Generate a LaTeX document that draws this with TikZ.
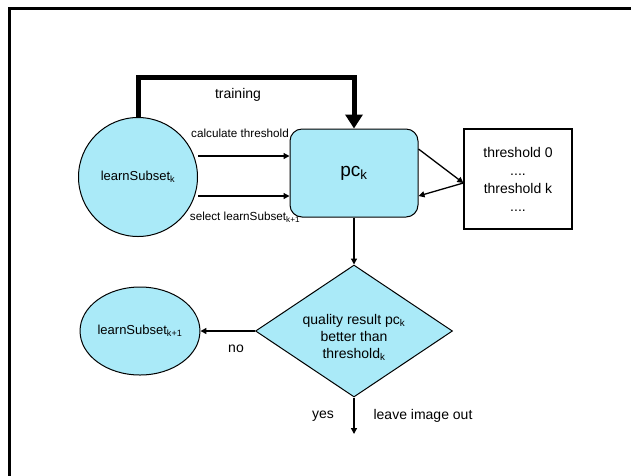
\documentclass[tikz,border=0pt]{standalone}
\usepackage{fontspec}
\setmainfont{Liberation Sans}
\usetikzlibrary{shapes.geometric,arrows.meta}
\definecolor{boxcyan}{RGB}{170,234,248}
\tikzset{
  flowfill/.style={draw=black,line width=1pt,fill=boxcyan},
  arr/.style={line width=1.3pt,-{Triangle[width=6pt,length=6pt]}},
  thick arr/.style={line width=5pt,-{Triangle[width=17pt,length=14pt]}},
  txt/.style={font=\fontsize{14}{17}\selectfont,inner sep=0pt},
  small txt/.style={font=\fontsize{11.7}{14}\selectfont,inner sep=0pt},
}
\begin{document}
\begin{tikzpicture}[x=1pt,y=-1pt]
\useasboundingbox (0,0) rectangle (631,475);
% partial outer frame
\draw[line width=2.7pt] (633,8.7) -- (9.7,8.7) -- (9.7,478);

% nodes
\node[flowfill,circle,minimum size=119pt,inner sep=0pt,
      font=\fontsize{13}{15}\selectfont] (ks) at (138,177) {learnSubset\textsubscript{k}};
\node[flowfill,rectangle,rounded corners=12pt,minimum width=128pt,minimum height=88pt,
      font=\fontsize{19}{22}\selectfont] (pc) at (354,173) {pc\textsubscript{k}};
\node[draw,line width=1.3pt,minimum width=108pt,minimum height=100pt,align=center,
      font=\fontsize{14}{18}\selectfont] (thr) at (518,179)
      {threshold 0\\....\\threshold k\\....};
\node[flowfill,diamond,minimum width=197pt,minimum height=132pt,aspect=1.5,inner sep=0pt] (dia) at (354,331) {};
\node[txt,align=center] (diatext) at (354,337) {quality result pc\textsubscript{k}\\better than\\threshold\textsubscript{k}};
\node[flowfill,ellipse,minimum width=107pt,minimum height=88pt,inner sep=0pt,
      font=\fontsize{13}{15}\selectfont] (ks1) at (140,331) {learnSubset\textsubscript{k+1}};

% training connector
\draw[thick arr] (ks.north) -- ++(0,-40) -| (pc.north);
\node[txt] (train) at (238,95) {training};

% circle to processing box
\coordinate (c1) at ([yshift=21pt]ks.east);
\coordinate (c2) at ([yshift=-19pt]ks.east);
\draw[arr] (c1) -- (c1 -| pc.west);
\draw[arr] (c2) -- (c2 -| pc.west);
\node[small txt] (calc) at (240,133) {calculate threshold};
\node[small txt] (sel) at (245,217) {select learnSubset\textsubscript{k+1}};

% processing box to threshold list and back
\coordinate (tp) at ([yshift=-4pt]thr.west);
\draw[arr] ([yshift=24pt]pc.east) -- (tp);
\draw[arr] (tp) -- ([yshift=-23pt]pc.east);

% decision
\draw[arr] (pc.south) -- (dia.north);
\draw[arr] (dia.west) -- (ks1.east);
\node[txt] (no) at (236,349) {no};
\coordinate (out) at (354,434);
\draw[arr] (dia.south) -- (out);
\node[txt] (yes) at (323,416) {yes};
\node[txt] (leave) at (423,416) {leave image out};
\end{tikzpicture}
\end{document}
